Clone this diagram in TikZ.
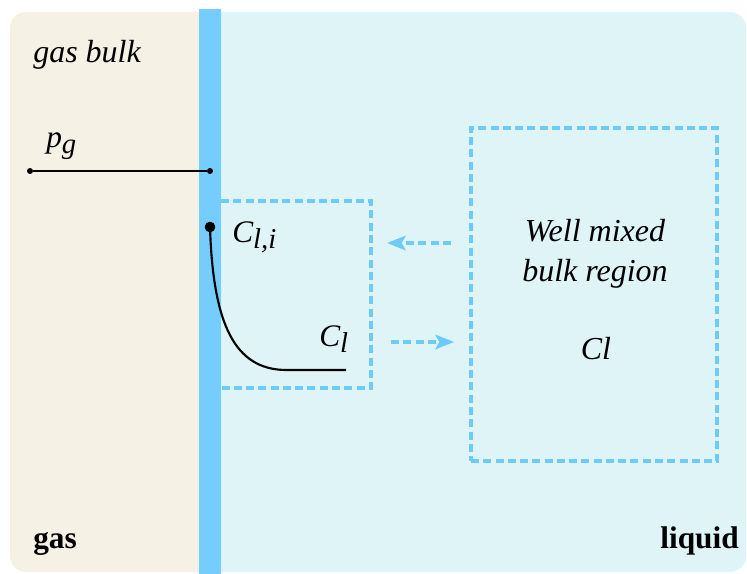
\documentclass[tikz,border=0pt]{standalone}
\usepackage{fontspec}
\setmainfont{Liberation Serif}
\usetikzlibrary{arrows.meta,positioning}
\definecolor{gasbg}{HTML}{F5F2E5}
\definecolor{liqbg}{HTML}{DEF4F7}
\definecolor{film}{HTML}{75CDFE}
\definecolor{dashblue}{HTML}{6CCBFB}
\newcommand{\lowsub}[1]{\raisebox{-4pt}{\fontsize{21.5}{24}\selectfont #1}}

\begin{document}
\begin{tikzpicture}[x=0.75pt,y=-0.75pt,
  dot/.style={draw,shape=circle,fill=black,inner sep=0pt,minimum size=4pt},
  bigdot/.style={dot,minimum size=7.5pt},
  lbl/.style={font=\fontsize{24}{28}\selectfont\itshape,inner sep=0pt},
  sym/.style={font=\fontsize{23.5}{28}\selectfont\itshape,inner sep=0pt},
  phase/.style={font=\fontsize{23.5}{28}\selectfont\bfseries,inner sep=0pt},
  dbox/.style={draw=dashblue,line width=2.3pt,dash pattern=on 6pt off 3.2pt},
  flow/.style={dbox,-{Stealth[length=14pt,width=11pt,inset=3pt]}}]

\useasboundingbox (0,0) rectangle (747,574);
% gas side, liquid side and the film between them
\fill[gasbg,rounded corners=12pt] (10,12) rectangle (215,572);
\fill[liqbg,rounded corners=12pt] (205,12) rectangle (746,572);
\fill[film] (199,9) rectangle (221,574);

\node[lbl,anchor=base west] (gasbulk) at (33,63) {gas bulk};
\node[phase,anchor=base west] (gas) at (33,548) {gas};
\node[phase,anchor=base east] (liquid) at (739,548) {liquid};

% partial pressure in the gas
\node[dot] (pg0) at (30,171) {};
\node[dot] (pg1) at (210,171) {};
\node[sym,anchor=base west] (pg) at (46,148) {p\lowsub{g}};
\draw[line width=1pt] (pg0) -- (pg1);

% concentration profile in the film
\node[bigdot] (cli) at (210,227) {};
\node[sym,anchor=base west] (clilbl) at (232,243) {C\lowsub{l,i}};
\node[sym,anchor=base west] (cllbl) at (319,347) {C\lowsub{l}};
\coordinate (clflat) at (285,370);
\coordinate (clend) at (346,370);
\draw[line width=1.6pt] (cli.center) .. controls (213,325) and (235,369) .. (clflat) -- (clend);

% film box (open on the film side)
\draw[dbox] (221,201) -- (371,201) -- (371,388) -- (221,388);

% bulk liquid
\node[dbox,minimum width=184.5pt,minimum height=249.75pt] (bulk) at (594,294.5) {};
\node[lbl,anchor=base] (well) at (595,242) {Well mixed};
\node[lbl,anchor=base] (region) at (595,282) {bulk region};
\node[lbl,anchor=base] (clbulk) at (596,359) {Cl};

\coordinate (back0) at (451,243);
\coordinate (back1) at (387,243);
\coordinate (fwd0) at (391,342);
\coordinate (fwd1) at (454,342);
\draw[flow] (back0) -- (back1);
\draw[flow] (fwd0) -- (fwd1);
\end{tikzpicture}
\end{document}
